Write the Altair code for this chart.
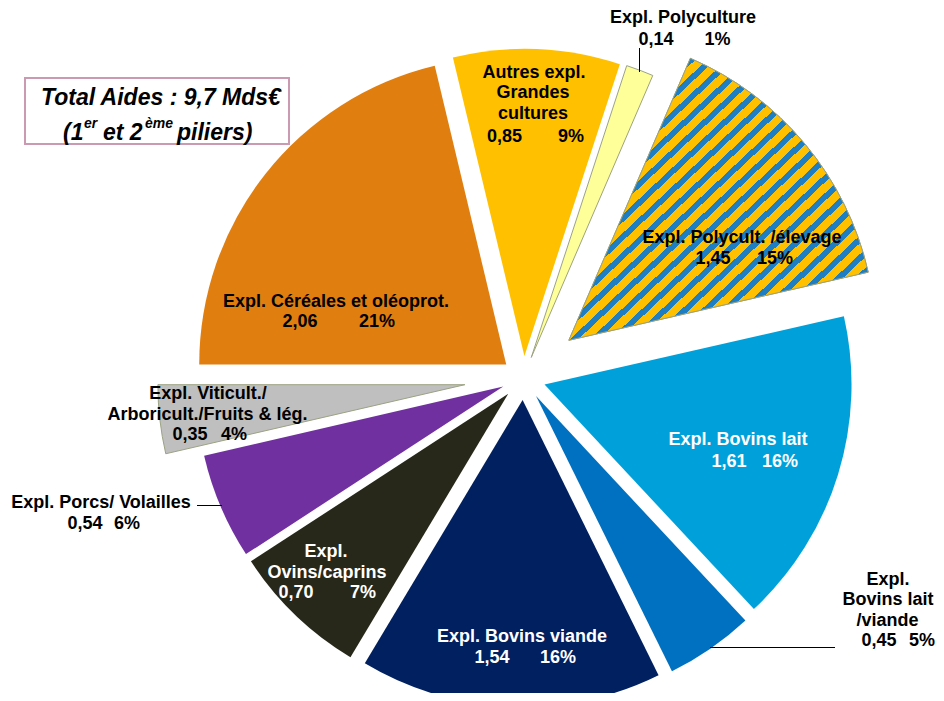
import altair as alt
import pandas as pd

# ---------------- data ----------------
categories = [
    "Expl. Céréales et oléoprot.",
    "Autres expl. Grandes cultures",
    "Expl. Polyculture",
    "Expl. Polycult. /élevage",
    "Expl. Bovins lait",
    "Expl. Bovins lait /viande",
    "Expl. Bovins viande",
    "Expl. Ovins/caprins",
    "Expl. Porcs/ Volailles",
    "Expl. Viticult./Arboricult./Fruits & lég.",
]
values = [2.06, 0.85, 0.14, 1.45, 1.61, 0.45, 1.54, 0.70, 0.54, 0.35]
percents = [21, 9, 1, 15, 16, 5, 16, 7, 6, 4]

# label lines as printed on the chart
label_lines = [
    ["Expl. Céréales et oléoprot."],
    ["Autres expl.", "Grandes", "cultures"],
    ["Expl. Polyculture"],
    ["Expl. Polycult. /élevage"],
    ["Expl. Bovins lait"],
    ["Expl.", "Bovins lait", "/viande"],
    ["Expl. Bovins viande"],
    ["Expl.", "Ovins/caprins"],
    ["Expl. Porcs/ Volailles"],
    ["Expl. Viticult./", "Arboricult./Fruits & lég."],
]

# ---------------- styling / layout ----------------
colors = ["#E07E10", "#FFC000", "#FFFF99", "#FFC000", "#00A1DA",
          "#0070C0", "#002060", "#27281A", "#7030A0", "#BFBFBF"]
text_colors = ["black", "black", "black", "black", "white",
               "black", "white", "white", "black", "black"]
outlined = ["Expl. Polyculture", "Expl. Polycult. /élevage",
            "Expl. Viticult./Arboricult./Fruits & lég."]
far_exploded = ["Expl. Polycult. /élevage",
                "Expl. Viticult./Arboricult./Fruits & lég."]
OFF = 8  # page margin
CX, CY, R = 523.5 - OFF, 378 - OFF, 307

# label anchor positions (page px): name lines, value, percent
name_pos = [
    [(336, 302)],
    [(534, 73), (533, 93), (533, 114)],
    [(683, 18)],
    [(742, 238)],
    [(738, 440)],
    [(888, 580), (888, 600), (887.5, 621)],
    [(522, 637)],
    [(326, 552), (327, 573)],
    [(101, 503)],
    [(208, 394), (207.5, 415)],
]
val_pos = [(300, 322), (504.5, 137), (656, 40), (713, 259), (729, 462),
           (879, 641), (492, 658), (296, 593), (85, 524), (190, 435)]
pct_pos = [(377, 322), (571, 137), (717.5, 40), (775, 259), (780, 462),
           (922, 641), (558, 658), (363, 593), (127, 524), (234, 435)]

df = pd.DataFrame({"category": categories, "value": values,
                   "order": list(range(len(values)))})

base = alt.Chart(df).transform_joinaggregate(
    total="sum(value)"
).transform_window(
    cum="sum(value)", sort=[alt.SortField("order")], frame=[None, 0]
).transform_calculate(
    t0="3*PI/2 + 2*PI*(datum.cum - datum.value)/datum.total",
    t1="3*PI/2 + 2*PI*datum.cum/datum.total",
).transform_calculate(
    mid="(datum.t0 + datum.t1)/2",
    d="indexof(" + str(far_exploded) + ", datum.category) >= 0 ? 59 : 22",
).transform_calculate(
    cx=f"{CX} + datum.d*sin(datum.mid)",
    cy=f"{CY} - datum.d*cos(datum.mid)",
)

enc = dict(
    theta=alt.Theta("t0:Q", scale=None, stack=None),
    theta2=alt.Theta2("t1:Q"),
    x=alt.X("cx:Q", scale=None),
    y=alt.Y("cy:Q", scale=None),
)

slices = base.mark_arc(radius=R, stroke="#9CA383").encode(
    color=alt.Color("category:N", scale=alt.Scale(domain=categories, range=colors),
                    legend=None),
    strokeWidth=alt.condition(
        alt.FieldOneOfPredicate(field="category", oneOf=outlined),
        alt.value(1), alt.value(0)),
    **enc,
)

# striped fill for the polyculture/élevage slice
N = 30
blue, yellow = "#1F7EC1", "#FFC000"
stops = []
for i in range(N):
    a = i / N
    b = (i + 0.42) / N
    c = (i + 1) / N
    stops += [alt.GradientStop(offset=a, color=blue),
              alt.GradientStop(offset=b, color=blue),
              alt.GradientStop(offset=b, color=yellow),
              alt.GradientStop(offset=c, color=yellow)]
grad = alt.LinearGradient(gradient="linear", stops=stops, x1=0, y1=0, x2=1, y2=1)
stripes = base.transform_filter(
    alt.datum.category == "Expl. Polycult. /élevage"
).mark_arc(radius=R, fill=grad, stroke="#9CA383", strokeWidth=1).encode(**enc)

# slice labels
rows = []
for i in range(len(categories)):
    for line, (x, y) in zip(label_lines[i], name_pos[i]):
        rows.append({"t": line, "x": x - OFF, "y": y - OFF, "c": text_colors[i]})
    vtxt = f"{values[i]:.2f}".replace(".", ",")
    rows.append({"t": vtxt, "x": val_pos[i][0] - OFF, "y": val_pos[i][1] - OFF,
                 "c": text_colors[i]})
    rows.append({"t": f"{percents[i]}%", "x": pct_pos[i][0] - OFF,
                 "y": pct_pos[i][1] - OFF, "c": text_colors[i]})
labels = alt.Chart(pd.DataFrame(rows)).mark_text(
    font="Liberation Sans", fontWeight="bold", fontSize=18,
    align="center", baseline="middle"
).encode(
    x=alt.X("x:Q", scale=None), y=alt.Y("y:Q", scale=None),
    text="t:N", color=alt.Color("c:N", scale=None),
)

# leader lines (half-pixel aligned for crisp 1px strokes)
leaders = pd.DataFrame({
    "x": [639.5, 197, 710], "y": [48, 505.5, 647.5],
    "x2": [639.5, 222, 835], "y2": [72, 505.5, 647.5],
})
leaders = leaders - OFF
rules = alt.Chart(leaders).mark_rule(color="black", strokeWidth=1).encode(
    x=alt.X("x:Q", scale=None), y=alt.Y("y:Q", scale=None),
    x2="x2:Q", y2="y2:Q",
)

# title box
box = alt.Chart(pd.DataFrame({"x": [25 - OFF], "y": [78 - OFF],
                              "x2": [289 - OFF], "y2": [144 - OFF]})).mark_rect(
    fill="white", stroke="#CC99B3", strokeWidth=2
).encode(x=alt.X("x:Q", scale=None), y=alt.Y("y:Q", scale=None),
         x2="x2:Q", y2="y2:Q")

title_rows = [
    {"t": "Total Aides : 9,7 Mds€", "x": 41, "y": 98, "s": 23},
    {"t": "(1", "x": 63, "y": 133, "s": 23},
    {"t": "er", "x": 84, "y": 124, "s": 14},
    {"t": "et 2", "x": 103, "y": 133, "s": 23},
    {"t": "ème", "x": 145, "y": 124, "s": 14},
    {"t": "piliers)", "x": 177, "y": 133, "s": 23},
]
tdf = pd.DataFrame(title_rows)
tdf["x"] -= OFF
tdf["y"] -= OFF
title = alt.Chart(tdf).mark_text(
    font="Liberation Sans", fontWeight="bold", fontStyle="italic",
    align="left", baseline="middle", color="black"
).encode(
    x=alt.X("x:Q", scale=None), y=alt.Y("y:Q", scale=None),
    text="t:N", size=alt.Size("s:Q", scale=None),
)

chart = alt.layer(slices, stripes, rules, labels, box, title).properties(
    width=928, height=685, padding=0,
    autosize=alt.AutoSizeParams(type="none"),
).configure_view(stroke=None)

chart.save("out.html", embed_options={"renderer": "svg", "actions": False})
